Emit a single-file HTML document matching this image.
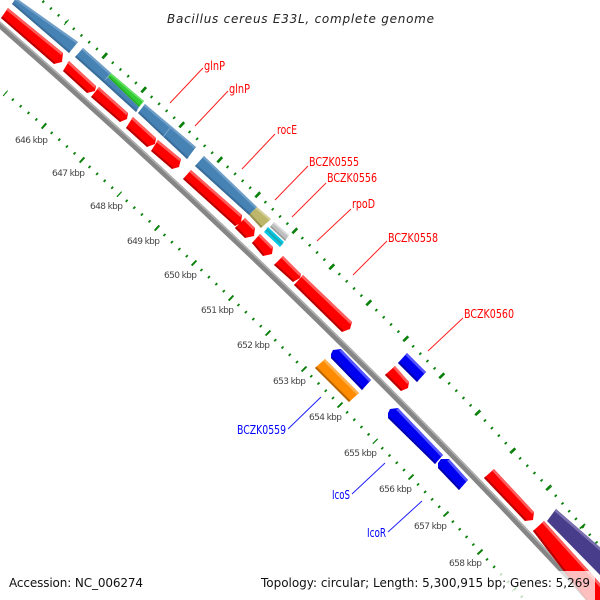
<!DOCTYPE html>
<html><head><meta charset="utf-8"><style>html,body{margin:0;padding:0;background:#fff}svg{display:block}text{font-family:"DejaVu Sans","Liberation Sans",sans-serif}</style></head><body>
<svg width="600" height="600" viewBox="0 0 600 600" xmlns="http://www.w3.org/2000/svg">
<rect width="600" height="600" fill="#fff"/>
<g fill="none" stroke="#0a800a">
<path stroke-width="2.8" stroke-dasharray="1.8 8.45" stroke-dashoffset=".9" d="M28 -12L66 22M66 22L105 56M105 56L144 90M144 90L182 125M182 125L220 160M220 160L258 195M258 195L295 231M295 231L332 267M332 267L369 303M369 303L406 339M406 339L442 376M442 376L478 413M478 413L513 451M513 451L549 488M549 488L583 527M583 527L617 566"/>
<path stroke-width="7" stroke-dasharray="2 49" stroke-dashoffset="1" d="M66 22L105 56M105 56L144 90M144 90L182 125M182 125L220 160M220 160L258 195M258 195L295 231M295 231L332 267M332 267L369 303M369 303L406 339M406 339L442 376M442 376L478 413M478 413L513 451M513 451L549 488M549 488L583 527"/>
<path stroke-width="2.8" stroke-dasharray="1.8 8.45" stroke-dashoffset=".9" d="M5 93L44 126M44 126L82 160M82 160L119 194M119 194L157 228M157 228L194 263M194 263L231 298M231 298L268 333M268 333L304 369M304 369L340 405M340 405L375 441M375 441L411 477M411 477L446 514M446 514L480 552M480 552L515 589M515 589L549 628"/>
<path stroke-width="7" stroke-dasharray="2 49" stroke-dashoffset="1" d="M5 93L44 126M44 126L82 160M82 160L119 194M119 194L157 228M157 228L194 263M194 263L231 298M231 298L268 333M268 333L304 369M304 369L340 405M340 405L375 441M375 441L411 477M411 477L446 514M446 514L480 552M480 552L515 589"/>
</g>
<g fill="none">
<path stroke="#858585" stroke-width="6" d="M-6 20A7850 7850 0 0 1 600 611"/>
<path stroke="#b0b0b0" stroke-width="1.5" transform="translate(1.4,-1.5)" d="M-6 20A7850 7850 0 0 1 600 611"/>
</g>
<g fill="#4682b4">
<polygon points="16,-2 78,42 69,53 12,4"/>
<polygon points="83,48 111,73 103,82 75,57"/>
<polygon points="103,82 108,77 139,107 136,112"/>
<polygon points="145,104 196,147 187,159 138,113"/>
<polygon points="204,156 257,207 249,215 195,166"/>
</g>
<g fill="none" stroke="#6f9fc8" stroke-width="2.2" transform="translate(-.75,.8)">
<path d="M16 -2L78 42M83 48L111 73M145 104L196 147M204 156L257 207"/>
</g>
<g fill="none" stroke="#3a6d9a" stroke-width="2" transform="translate(.7,-.75)">
<path d="M12 4L69 53M75 57L103 82L136 112M138 113L187 159M195 166L249 215"/>
</g>
<path d="M163 137L170 128" stroke="#7ba6cc" stroke-width="1" fill="none"/>
<polygon points="111,73 144,101 139,107 108,77" fill="#32cd32"/>
<path d="M111 73L144 101" transform="translate(-.6,.7)" stroke="#6fe06f" stroke-width="1.6" fill="none"/>
<path d="M108 77L139 107" transform="translate(.6,-.6)" stroke="#24a524" stroke-width="1.2" fill="none"/>
<polygon points="257,207 271,219 261,228 249,215" fill="#bdb76b"/>
<path d="M257 207L271 219" transform="translate(-.7,.8)" stroke="#d5d09a" stroke-width="2" fill="none"/>
<path d="M249 215L261 228" transform="translate(.7,-.8)" stroke="#98934f" stroke-width="2" fill="none"/>
<polygon points="274,222 289,235 285,241 270,227" fill="#bfbfbf"/>
<path d="M274 222L289 235" transform="translate(-.6,.7)" stroke="#dcdcdc" stroke-width="1.5" fill="none"/>
<path d="M270 227L285 241" transform="translate(.6,-.7)" stroke="#9a9a9a" stroke-width="1.5" fill="none"/>
<polygon points="268,227 284,242 280,247 264,232" fill="#00c8e8"/>
<path d="M266.500 229.500L282 244.500" stroke="#20a8b0" stroke-width="2" fill="none"/>
<polygon points="544,521 590,572 615,600 595,612 533,531" fill="#f00"/>
<g fill="#f00">
<polygon points="8,8 63,53 62,62 54,64 1,18"/>
<polygon points="69,61 96,86 95,91 87,93 63,71"/>
<polygon points="99,87 128,113 127,119 120,122 91,97"/>
<polygon points="133,117 156,138 155,144 147,147 126,128"/>
<polygon points="158,140 181,159 179,167 172,169 151,151"/>
<polygon points="191,170 242,215 241,223 235,226 183,179"/>
<polygon points="245,218 255,228 254,236 245,238 235,228"/>
<polygon points="260,234 273,247 272,254 263,256 252,243"/>
<polygon points="283,256 301,274 300,278 293,282 274,265"/>
<polygon points="303,275 352,322 350,329 342,332 294,285"/>
<polygon points="395,366 409,382 408,388 401,391 385,375"/>
<polygon points="494,469 534,512 533,520 525,521 484,478"/>
</g>
<g fill="none" stroke="#ff5c5c" stroke-width="2.6" transform="translate(-.9,1)">
<path d="M8 8L63 53M69 61L96 86M99 87L128 113M133 117L156 138M158 140L181 159M191 170L242 215M245 218L255 228M260 234L273 247M283 256L301 274M303 275L352 322M395 366L409 382M494 469L534 512M544 521L615 600"/>
</g>
<g fill="none" stroke="#b80000" stroke-width="2" transform="translate(.7,-.75)">
<path d="M1 18L54 64M63 71L87 93M91 97L120 122M126 128L147 147M151 151L172 169M183 179L235 226M235 228L245 238M252 243L263 256M274 265L293 282M294 285L342 332M385 375L401 391M484 478L525 521M533 531L595 612"/>
</g>
<g fill="#0000f0">
<polygon points="407,353 426,372 417,382 398,363"/>
<polygon points="331,354 333,350 341,349 371,380 362,390 331,358"/>
<polygon points="388,413 390,409 398,408 443,455 435,464 388,418"/>
<polygon points="438,463 441,459 449,459 468,480 459,490 438,468"/>
</g>
<g fill="none" stroke="#5555ff" stroke-width="2.6" transform="translate(-.9,1)">
<path d="M407 353L426 372M341 349L371 380M398 408L443 455M449 459L468 480"/>
</g>
<g fill="none" stroke="#0000b0" stroke-width="2" transform="translate(.7,-.75)">
<path d="M398 363L417 382M331 358L362 390M388 418L435 464M438 468L459 490"/>
</g>
<polygon points="325,359 359,393 349,402 315,368" fill="#ff8c00"/>
<path d="M325 359L359 393" transform="translate(-.9,1)" stroke="#ffae4d" stroke-width="2.6" fill="none"/>
<path d="M315 368L349 402" transform="translate(.7,-.75)" stroke="#b86500" stroke-width="2" fill="none"/>
<polygon points="556,509 610,556 600,575 547,521" fill="#483d8b"/>
<path d="M556 509L610 556" transform="translate(-.9,1)" stroke="#7a70b0" stroke-width="2.6" fill="none"/>
<g fill="none" stroke-width="1">
<path stroke="#ff2020" d="M203 68L170 103M228 91L195 126M275 134L242 169M308 166L275 200M326 183L292 217M351 209L317 241M387 241L353 275M463 318L428 351"/>
<path stroke="#2020ff" d="M321 397L288 429M385 463L352 494M422 501L388 532"/>
</g>
<rect x="3" y="571" width="147" height="29" fill="#fff" fill-opacity=".75"/>
<rect x="255" y="571" width="340" height="29" fill="#fff" fill-opacity=".75"/>
<text x="167" y="23" font-size="12" font-style="italic" fill="#222" textLength="267" lengthAdjust="spacing">Bacillus cereus E33L, complete genome</text>
<text x="9" y="587" font-size="12" fill="#111" textLength="134" lengthAdjust="spacing">Accession: NC_006274</text>
<text x="261" y="587" font-size="12" fill="#111" textLength="329" lengthAdjust="spacing">Topology: circular; Length: 5,300,915 bp; Genes: 5,269</text>
<g font-size="9" fill="#444">
<text x="15" y="143" textLength="33">646 kbp</text>
<text x="52" y="176" textLength="33">647 kbp</text>
<text x="90" y="209" textLength="33">648 kbp</text>
<text x="127" y="244" textLength="33">649 kbp</text>
<text x="164" y="278" textLength="33">650 kbp</text>
<text x="201" y="313" textLength="33">651 kbp</text>
<text x="237" y="348" textLength="33">652 kbp</text>
<text x="273" y="384" textLength="33">653 kbp</text>
<text x="309" y="420" textLength="33">654 kbp</text>
<text x="344" y="456" textLength="33">655 kbp</text>
<text x="379" y="492" textLength="33">656 kbp</text>
<text x="414" y="529" textLength="33">657 kbp</text>
<text x="449" y="566" textLength="33">658 kbp</text>
</g>
<g font-size="12" fill="#f00">
<text x="204" y="70" textLength="21" lengthAdjust="spacingAndGlyphs">glnP</text>
<text x="229" y="93" textLength="21" lengthAdjust="spacingAndGlyphs">glnP</text>
<text x="277" y="134" textLength="20" lengthAdjust="spacingAndGlyphs">rocE</text>
<text x="309" y="166" textLength="50" lengthAdjust="spacingAndGlyphs">BCZK0555</text>
<text x="327" y="182" textLength="50" lengthAdjust="spacingAndGlyphs">BCZK0556</text>
<text x="352" y="208" textLength="23" lengthAdjust="spacingAndGlyphs">rpoD</text>
<text x="388" y="242" textLength="50" lengthAdjust="spacingAndGlyphs">BCZK0558</text>
<text x="464" y="318" textLength="50" lengthAdjust="spacingAndGlyphs">BCZK0560</text>
</g>
<g font-size="12" fill="#00f">
<text x="237" y="434" textLength="49" lengthAdjust="spacingAndGlyphs">BCZK0559</text>
<text x="332" y="499" textLength="18" lengthAdjust="spacingAndGlyphs">IcoS</text>
<text x="367" y="537" textLength="19" lengthAdjust="spacingAndGlyphs">IcoR</text>
</g>
</svg>
</body></html>
